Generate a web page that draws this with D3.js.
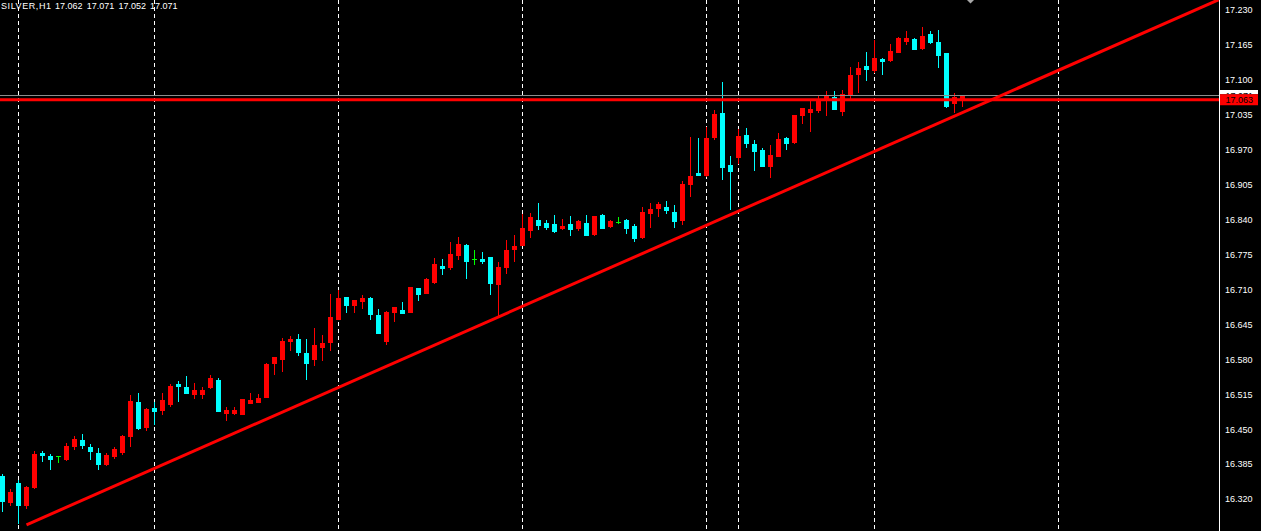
<!DOCTYPE html>
<html><head><meta charset="utf-8">
<script src="https://cdn.jsdelivr.net/npm/d3@7"></script>
<style>html,body{margin:0;padding:0;background:#000;overflow:hidden}svg{display:block}</style>
</head><body>
<svg id="c" width="1261" height="531"></svg>
<script>
const symbolLabel = "SILVER,H1";
const lastOHLC = ["17.062", "17.071", "17.052", "17.071"];
const opens = [16.363,16.315,16.350,16.308,16.342,16.406,16.400,16.400,16.394,16.419,16.430,16.417,16.406,16.385,16.400,16.407,16.437,16.500,16.454,16.489,
16.486,16.497,16.534,16.528,16.515,16.515,16.528,16.541,16.480,16.480,16.478,16.499,16.500,16.510,16.573,16.581,16.614,16.618,16.592,16.581,
16.603,16.612,16.655,16.696,16.681,16.688,16.694,16.662,16.614,16.668,16.672,16.668,16.713,16.703,16.724,16.754,16.752,16.774,16.793,16.767,
16.767,16.770,16.720,16.752,16.785,16.793,16.821,16.839,16.834,16.832,16.824,16.832,16.824,16.834,16.813,16.848,16.828,16.835,16.839,16.828,
16.808,16.852,16.862,16.863,16.854,16.839,16.906,16.927,16.923,16.994,17.038,16.941,16.956,16.997,16.981,16.969,16.940,16.958,16.992,16.984,
17.035,17.040,17.044,17.064,17.068,17.042,17.074,17.111,17.126,17.118,17.139,17.137,17.152,17.172,17.176,17.159,17.185,17.170,17.150,17.057,17.062];
const highs = [16.366,16.339,16.355,16.345,16.409,16.409,16.404,16.400,16.424,16.437,16.441,16.422,16.415,16.405,16.417,16.439,16.514,16.517,16.489,16.500,
16.517,16.534,16.540,16.549,16.536,16.528,16.551,16.545,16.491,16.491,16.506,16.517,16.515,16.573,16.584,16.620,16.623,16.627,16.618,16.638,
16.625,16.701,16.709,16.696,16.690,16.700,16.696,16.674,16.670,16.677,16.687,16.715,16.713,16.731,16.768,16.767,16.798,16.808,16.795,16.783,
16.780,16.770,16.761,16.802,16.811,16.850,16.852,16.871,16.839,16.848,16.841,16.847,16.839,16.848,16.847,16.850,16.839,16.845,16.841,16.832,
16.863,16.871,16.873,16.875,16.867,16.912,16.994,16.992,17.012,17.044,17.096,16.958,17.009,17.010,16.988,16.973,16.979,17.001,16.994,17.035,
17.048,17.062,17.072,17.079,17.079,17.081,17.124,17.133,17.152,17.174,17.141,17.167,17.180,17.191,17.178,17.198,17.191,17.193,17.150,17.076,17.071];
const lows = [16.298,16.308,16.275,16.304,16.340,16.391,16.376,16.389,16.393,16.413,16.415,16.394,16.376,16.383,16.396,16.404,16.419,16.450,16.448,16.460,
16.478,16.493,16.502,16.517,16.508,16.508,16.527,16.484,16.467,16.478,16.478,16.499,16.500,16.510,16.553,16.558,16.597,16.588,16.543,16.569,
16.579,16.597,16.655,16.668,16.668,16.675,16.655,16.629,16.608,16.651,16.666,16.668,16.690,16.703,16.722,16.739,16.748,16.767,16.731,16.757,
16.759,16.701,16.659,16.741,16.763,16.793,16.808,16.822,16.822,16.817,16.822,16.811,16.821,16.811,16.811,16.824,16.826,16.834,16.815,16.800,
16.806,16.826,16.847,16.852,16.826,16.832,16.884,16.923,16.921,16.990,16.916,16.860,16.945,16.975,16.932,16.940,16.919,16.958,16.971,16.982,
17.020,17.005,17.040,17.035,17.046,17.035,17.066,17.077,17.100,17.115,17.111,17.135,17.152,17.167,17.157,17.157,17.169,17.124,17.049,17.040,17.052];
const closes = [16.316,16.333,16.308,16.342,16.404,16.402,16.395,16.400,16.419,16.432,16.420,16.409,16.385,16.402,16.413,16.437,16.502,16.452,16.487,16.484,
16.504,16.530,16.530,16.517,16.523,16.523,16.545,16.484,16.486,16.486,16.506,16.504,16.508,16.571,16.584,16.614,16.618,16.594,16.573,16.607,
16.610,16.659,16.694,16.681,16.690,16.694,16.664,16.629,16.668,16.677,16.666,16.715,16.701,16.729,16.757,16.750,16.776,16.795,16.763,16.767,
16.763,16.722,16.752,16.783,16.791,16.824,16.845,16.830,16.826,16.819,16.828,16.822,16.837,16.811,16.847,16.824,16.837,16.835,16.824,16.806,
16.854,16.860,16.869,16.858,16.837,16.906,16.921,16.923,16.992,17.036,16.938,16.930,16.996,16.982,16.968,16.940,16.960,16.990,16.982,17.035,
17.048,17.046,17.061,17.070,17.046,17.074,17.109,17.122,17.120,17.141,17.135,17.154,17.178,17.178,17.157,17.182,17.170,17.146,17.051,17.068,17.071];
const separatorBars = [2, 19, 42, 65, 88, 92, 109, 132];
const tickValues = [17.230,17.165,17.100,17.035,16.970,16.905,16.840,16.775,16.710,16.645,16.580,16.515,16.450,16.385,16.320];
const bidPrice = 17.071;
const hLinePrice = 17.063;
const trendBars = [3, 91];
const trendPrices = [16.272, 16.849];
const markerBar = 121;

const W = 1261, H = 531, axisX = 1219;
const svg = d3.select("#c");
svg.append("rect").attr("width", W).attr("height", H).attr("fill", "#000");

const x = d3.scaleLinear().domain([0, 152]).range([2.5, 1218.5]);
const y = d3.scaleLinear().domain([16.320, 17.230]).range([499, 10]);

const defs = svg.append("defs");
defs.append("clipPath").attr("id", "clip")
  .append("rect").attr("x", 0).attr("y", 0).attr("width", axisX).attr("height", H);

const plot = svg.append("g").attr("clip-path", "url(#clip)");

// period separators
plot.selectAll("line.sep").data(separatorBars).enter().append("line")
  .attr("x1", d => x(d)).attr("x2", d => x(d)).attr("y1", 0).attr("y2", H)
  .attr("stroke", "#fff").attr("stroke-width", 1).attr("stroke-dasharray", "4,3");

// candles
const bars = d3.range(opens.length).map(i => ({i, o: opens[i], h: highs[i], l: lows[i], c: closes[i]}));
const colorOf = d => d.c > d.o ? "#ff0000" : (d.c < d.o ? "#00ffff" : "#00ff00");
const cg = plot.append("g").attr("shape-rendering", "crispEdges");
cg.selectAll("rect.wick").data(bars).enter().append("rect")
  .attr("x", d => x(d.i) - 0.5).attr("width", 1)
  .attr("y", d => Math.round(y(d.h)))
  .attr("height", d => Math.round(y(d.l)) - Math.round(y(d.h)) + 1)
  .attr("fill", colorOf);
cg.selectAll("rect.body").data(bars).enter().append("rect")
  .attr("x", d => x(d.i) - 2.5).attr("width", 5)
  .attr("y", d => Math.round(y(Math.max(d.o, d.c))))
  .attr("height", d => Math.max(1, Math.round(y(Math.min(d.o, d.c))) - Math.round(y(Math.max(d.o, d.c))) + 1))
  .attr("fill", colorOf);

// bid line (gray)
plot.append("line").attr("x1", 0).attr("x2", axisX).attr("y1", Math.round(y(bidPrice)) + 0.5).attr("y2", Math.round(y(bidPrice)) + 0.5)
  .attr("stroke", "#8c8c8c").attr("stroke-width", 1);
// horizontal line (red)
plot.append("line").attr("x1", 0).attr("x2", axisX).attr("y1", y(hLinePrice)).attr("y2", y(hLinePrice))
  .attr("stroke", "#ff0000").attr("stroke-width", 3);

// trend line (ray)
const slope = (trendPrices[1] - trendPrices[0]) / (trendBars[1] - trendBars[0]);
const endBar = 152;
plot.append("line")
  .attr("x1", x(trendBars[0])).attr("y1", y(trendPrices[0]))
  .attr("x2", x(endBar)).attr("y2", y(trendPrices[0] + slope * (endBar - trendBars[0])))
  .attr("stroke", "#ff0000").attr("stroke-width", 3);

// small marker at top
plot.append("path")
  .attr("d", `M${x(markerBar) - 3.5},0 L${x(markerBar) + 3.5},0 L${x(markerBar)},3.5 Z`)
  .attr("fill", "#a8a8a8");

// price axis
svg.append("line").attr("x1", axisX + 0.5).attr("x2", axisX + 0.5).attr("y1", 0).attr("y2", H)
  .attr("stroke", "#fff").attr("stroke-width", 1);
const axis = d3.axisRight(y).tickValues(tickValues).tickSize(0).tickPadding(6).tickFormat(d3.format(".3f"));
const ag = svg.append("g").attr("transform", `translate(${axisX},0)`).call(axis);
ag.select(".domain").remove();
ag.selectAll("text").attr("fill", "#fff").attr("font-family", "'Liberation Sans', Arial, sans-serif").attr("font-size", "9px");

// price labels: the bid label (white) is mostly covered by the line label (red)
const bidTop = y(bidPrice) - 5.5, lineTop = y(hLinePrice) - 5.5;
defs.append("clipPath").attr("id", "bidclip")
  .append("rect").attr("x", axisX + 1).attr("y", bidTop).attr("width", 38).attr("height", Math.max(0, lineTop - bidTop));
function priceLabel(p, bg, fg, clip) {
  const cy = y(p);
  const g = svg.append("g");
  if (clip) g.attr("clip-path", `url(#${clip})`);
  g.append("rect").attr("x", axisX + 1).attr("y", cy - 5.5).attr("width", 38).attr("height", 11).attr("fill", bg);
  g.append("text").attr("x", axisX + 6.5).attr("y", cy).attr("dy", "0.34em")
    .attr("fill", fg).attr("font-family", "'Liberation Sans', Arial, sans-serif").attr("font-size", "9px")
    .text(d3.format(".3f")(p));
}
priceLabel(bidPrice, "#ffffff", "#000000", "bidclip");
priceLabel(hLinePrice, "#ff0000", "#000000", null);

// title text
const t = svg.append("text").attr("y", 9).attr("fill", "#fff")
  .attr("font-family", "'Liberation Sans', Arial, sans-serif").attr("font-size", "9px");
t.append("tspan").attr("x", 1).attr("textLength", 50).text(symbolLabel);
lastOHLC.forEach((v, k) => t.append("tspan").attr("x", 55 + k * 31.7).text(v));
</script>
</body></html>
